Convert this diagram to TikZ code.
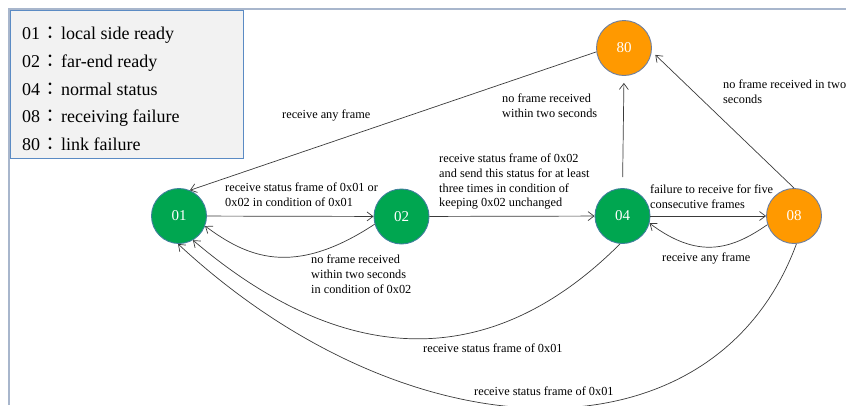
\documentclass[tikz,border=0pt]{standalone}
\usepackage{fontspec}
\setmainfont{Liberation Serif}
\newfontfamily\cjkfont{Noto Sans CJK JP}
\usetikzlibrary{arrows.meta}
\definecolor{sgreen}{HTML}{00A650}
\definecolor{sorange}{HTML}{FF9900}
\definecolor{gborder}{HTML}{3F7F9C}
\definecolor{oborder}{HTML}{6D7FA0}
\definecolor{framec}{HTML}{A8B6CC}
\definecolor{legfill}{HTML}{F2F2F2}
\definecolor{legborder}{HTML}{5B8BC4}
\definecolor{linec}{HTML}{3A3A3A}
\newcommand{\fwcolon}{\makebox[21pt]{\cjkfont ：}}
\begin{document}
\begin{tikzpicture}[x=1pt,y=-1pt,
  state/.style={circle, minimum size=55pt, inner sep=0pt, line width=0.9pt, text=white, font=\fontsize{15}{18}\selectfont},
  gstate/.style={state, fill=sgreen, draw=gborder},
  ostate/.style={state, fill=sorange, draw=oborder},
  edge/.style={draw=linec, line width=0.7pt, -{Straight Barb[length=6pt,width=9pt]}},
  lbl/.style={anchor=north west, align=left, inner sep=0pt, font=\fontsize{12.3}{14.7}\selectfont},
  legtext/.style={anchor=base west, inner sep=0pt, font=\fontsize{18}{22}\selectfont},
  legendbox/.style={draw=legborder, fill=legfill, line width=0.8pt, anchor=north west, minimum width=233pt, minimum height=148pt, inner sep=0pt}
]
\useasboundingbox (0,0) rectangle (846,405);
% frame
\draw[framec, line width=2pt] (8.7,405) -- (8.7,8.7) -- (846,8.7);
% legend
\node[legendbox] (legend) at (10,10) {};
\node[legtext] (leg1) at (22,39)  {01\fwcolon local side ready};
\node[legtext] (leg2) at (22,67)  {02\fwcolon far-end ready};
\node[legtext] (leg3) at (22,95)  {04\fwcolon normal status};
\node[legtext] (leg4) at (22,122) {08\fwcolon receiving failure};
\node[legtext] (leg5) at (22,150) {80\fwcolon link failure};
% states
\node[gstate] (n01) at (179,216) {01};
\node[gstate] (n02) at (401.5,216.5) {02};
\node[gstate] (n04) at (622.5,216) {04};
\node[ostate] (n08) at (794,216) {08};
\node[ostate] (n80) at (624,48) {80};
% edges
\draw[edge] (n80.188) -- (n01.67);
\draw[edge] (n01) -- (n02);
\draw[edge] (n02.196) .. controls (293,278) and (247,257) .. (n01.-21);
\draw[edge] (n02) -- (n04);
\draw[edge, shorten <=11pt, shorten >=7pt] (n04.north) -- (n80.south);
\draw[edge] (n04) -- (n08);
\draw[edge] (n08.198) .. controls (731,250) and (698,259.5) .. (n04.-15);
\draw[edge, shorten >=5pt] (n08.north) -- (n80.-7);
\draw[edge] (n04.265) .. controls (493,371) and (347,371) .. (n01.-60);
\draw[edge] (n08.-85) .. controls (715,465) and (412,461) .. (n01.-92);
% labels
\node[lbl] (l1) at (282,110) {receive any frame};
\node[lbl] (l2) at (225,183) {receive status frame of 0x01 or\\0x02 in condition of 0x01};
\node[lbl] (l3) at (311,255) {no frame received\\within two seconds\\in condition of 0x02};
\node[lbl] (l4) at (439,154) {receive status frame of 0x02\\and send this status for at least\\three times in condition of\\keeping 0x02 unchanged};
\node[lbl] (l5) at (502,94) {no frame received\\within two seconds};
\node[lbl] (l6) at (723,80) {no frame received in two\\seconds};
\node[lbl] (l7) at (650,185) {failure to receive for five\\consecutive frames};
\node[lbl] (l8) at (662,253) {receive any frame};
\node[lbl] (l9) at (423,344) {receive status frame of 0x01};
\node[lbl] (l10) at (474,387) {receive status frame of 0x01};
\end{tikzpicture}
\end{document}
